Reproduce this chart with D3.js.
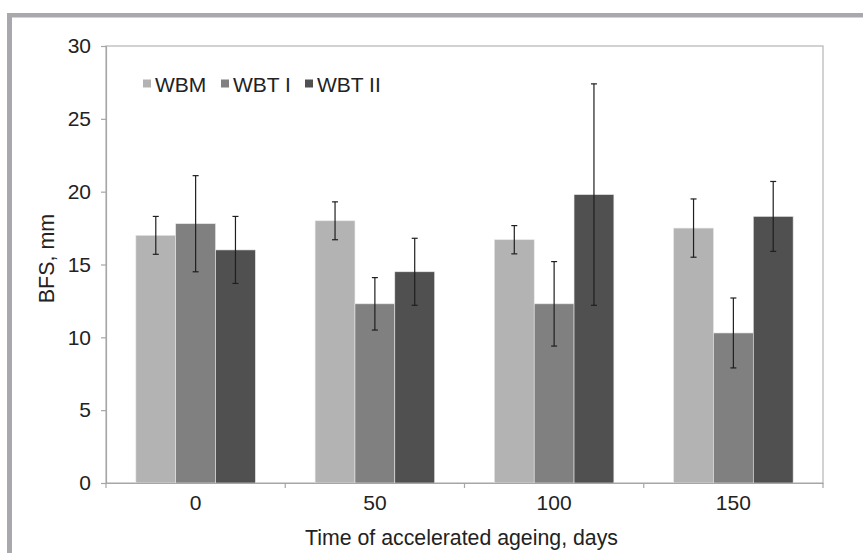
<!DOCTYPE html>
<html><head><meta charset="utf-8">
<script src="https://cdn.jsdelivr.net/npm/d3@7"></script>
<style>html,body{margin:0;padding:0;background:#fff;}svg{display:block;font-family:"Liberation Sans",Arial,sans-serif;}</style>
</head><body>
<script>
const categories = ["0", "50", "100", "150"];
const seriesNames = ["WBM", "WBT I", "WBT II"];
const seriesColors = ["#b3b3b3", "#808080", "#505050"];
const wbm = [17.0, 18.0, 16.7, 17.5];
const wbt1 = [17.8, 12.3, 12.3, 10.3];
const wbt2 = [16.0, 14.5, 19.8, 18.3];
const wbmErr = [1.3, 1.3, 0.97, 2.0];
const wbt1Err = [3.3, 1.8, 2.9, 2.4];
const wbt2Err = [2.3, 2.3, 7.6, 2.4];
const yTicks = [0, 5, 10, 15, 20, 25, 30];
const xTitle = "Time of accelerated ageing, days";
const yTitle = "BFS, mm";

const values = [wbm, wbt1, wbt2];
const errs = [wbmErr, wbt1Err, wbt2Err];

const W = 863, H = 553;
const svg = d3.select("body").append("svg").attr("width", W).attr("height", H);

// outer frame
svg.append("rect").attr("x", 7).attr("y", 13).attr("width", W - 7).attr("height", 4.5).attr("fill", "#a9a9ad");
svg.append("rect").attr("x", 7).attr("y", 13).attr("width", 5).attr("height", H - 13).attr("fill", "#a9a9ad");

const L = 106, R = 823, T = 46, B = 483;
const x = d3.scaleBand().domain(categories).range([L, R]).paddingInner(0).paddingOuter(0);
const y = d3.scaleLinear().domain([0, 30]).range([B, T]);
const bw = x.bandwidth() / 4.5;
const xs = d3.scaleBand().domain(seriesNames).range([0, bw * 3]);

// plot border
svg.append("rect").attr("x", L).attr("y", T).attr("width", R - L).attr("height", B - T)
  .attr("fill", "none").attr("stroke", "#b4b4b4").attr("stroke-width", 1.2);

// bars
seriesNames.forEach((s, si) => {
  const g = svg.append("g");
  g.selectAll("rect").data(categories).join("rect")
    .attr("x", (c) => x(c) + bw * 0.75 + xs(s))
    .attr("y", (c, i) => y(values[si][i]))
    .attr("width", xs.bandwidth())
    .attr("height", (c, i) => B - y(values[si][i]))
    .attr("fill", seriesColors[si])
    .attr("stroke", "#e6e6e6").attr("stroke-width", 0.6);
});

// error bars
seriesNames.forEach((s, si) => {
  const g = svg.append("g").attr("stroke", "#1f1f1f").attr("stroke-width", 1.2);
  categories.forEach((c, i) => {
    const cx = x(c) + bw * 0.75 + xs(s) + xs.bandwidth() / 2;
    const v = values[si][i], e = errs[si][i];
    g.append("line").attr("x1", cx).attr("x2", cx).attr("y1", y(v + e)).attr("y2", y(v - e));
    g.append("line").attr("x1", cx - 3).attr("x2", cx + 3).attr("y1", y(v + e)).attr("y2", y(v + e));
    g.append("line").attr("x1", cx - 3).attr("x2", cx + 3).attr("y1", y(v - e)).attr("y2", y(v - e));
  });
});

// y axis
const yAxis = d3.axisLeft(y).tickValues(yTicks).tickSize(5).tickPadding(10).tickFormat(d3.format("d"));
const ya = svg.append("g").attr("transform", `translate(${L},0)`).call(yAxis);
ya.select(".domain").attr("stroke", "#a6a6a6").attr("stroke-width", 1.2);
ya.selectAll(".tick line").attr("stroke", "#a6a6a6").attr("stroke-width", 1.2);
ya.selectAll("text").attr("font-size", 21).attr("fill", "#222").attr("font-family", "Liberation Sans, Arial, sans-serif");

// x axis
const xa = svg.append("g").attr("transform", `translate(0,${B})`).call(d3.axisBottom(x).tickSize(0).tickPadding(12));
xa.select(".domain").attr("stroke", "#a6a6a6").attr("stroke-width", 1.2);
xa.selectAll("text").attr("font-size", 21).attr("fill", "#222").attr("font-family", "Liberation Sans, Arial, sans-serif");
// category boundary ticks
const bounds = categories.map(c => x(c)).concat([R]);
svg.append("g").selectAll("line").data(bounds).join("line")
  .attr("x1", d => d).attr("x2", d => d).attr("y1", B).attr("y2", B + 5)
  .attr("stroke", "#a6a6a6").attr("stroke-width", 1.2);

// titles
svg.append("text").attr("x", (L + R) / 2 - 3).attr("y", 545).attr("text-anchor", "middle")
  .attr("font-size", 21.3).attr("fill", "#222").text(xTitle);
svg.append("text").attr("transform", `translate(54,${(T + B) / 2 - 6}) rotate(-90)`).attr("text-anchor", "middle")
  .attr("font-size", 21.5).attr("fill", "#222").text(yTitle);

// legend
const legX = [143, 221, 305];
seriesNames.forEach((s, si) => {
  svg.append("rect").attr("x", legX[si]).attr("y", 79.5).attr("width", 8).attr("height", 8).attr("fill", seriesColors[si]);
  svg.append("text").attr("x", legX[si] + 12).attr("y", 92).attr("font-size", 21).attr("fill", "#222").text(s);
});
</script>
</body></html>
